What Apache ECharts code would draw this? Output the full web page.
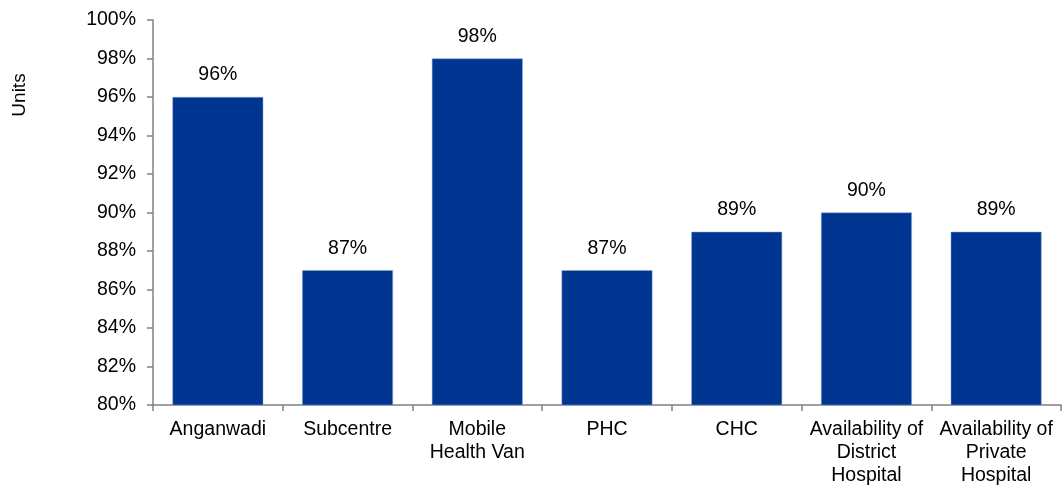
<!DOCTYPE html>
<html><head><meta charset="utf-8">
<script src="https://cdn.jsdelivr.net/npm/echarts@6/dist/echarts.min.js"></script>
<style>html,body{margin:0;padding:0;background:#fff}#c{width:1062px;height:489px}</style>
</head><body><div id="c"></div>
<script>
const categories = ["Anganwadi", "Subcentre", "Mobile\nHealth Van", "PHC", "CHC", "Availability of\nDistrict\nHospital", "Availability of\nPrivate\nHospital"];
const values = [96, 87, 98, 87, 89, 90, 89];
const yTicks = [80, 82, 84, 86, 88, 90, 92, 94, 96, 98, 100];
const axisTitle = "Units";

const chart = echarts.init(document.getElementById('c'));
const font = "'Liberation Sans', Arial, sans-serif";
chart.setOption({
  animation: false,
  grid: {left: 153, right: 1, top: 20, bottom: 84, containLabel: false},
  graphic: [{
    type: 'text', x: 20, y: 95, rotation: Math.PI / 2,
    style: {text: axisTitle, fill: '#000', font: "19px 'Liberation Sans', Arial, sans-serif", align: 'center', verticalAlign: 'middle'}
  }],
  xAxis: {
    type: 'category', data: categories,
    axisLine: {lineStyle: {color: '#808080', width: 1.5}},
    axisTick: {show: true, alignWithLabel: false, length: 6, lineStyle: {color: '#808080', width: 1.5}},
    axisLabel: {color: '#000', fontFamily: font, fontSize: 19.5, lineHeight: 23, margin: 13, interval: 0}
  },
  yAxis: {
    type: 'value', min: yTicks[0], max: yTicks[yTicks.length-1], interval: 2,
    axisLine: {show: true, lineStyle: {color: '#808080', width: 1.5}},
    axisTick: {show: true, inside: false, length: 6, lineStyle: {color: '#808080', width: 1.5}},
    splitLine: {show: false},
    axisLabel: {color: '#000', fontFamily: font, fontSize: 19.5, margin: 17, formatter: v => v + '%'}
  },
  series: [{
    type: 'bar', data: values, barWidth: '70%',
    itemStyle: {color: '#003591', borderColor: '#8aa4d6', borderWidth: 0.5},
    label: {show: true, position: 'top', distance: 12, color: '#000', fontFamily: font, fontSize: 19.5, formatter: p => p.value + '%'}
  }]
});
</script></body></html>
